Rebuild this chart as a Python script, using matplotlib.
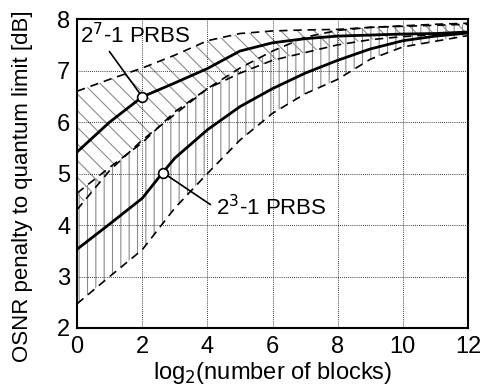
import numpy as np
import matplotlib
matplotlib.use("Agg")
import matplotlib.pyplot as plt

plt.rcParams['font.family'] = ['Liberation Sans', 'DejaVu Sans']
plt.rcParams['hatch.linewidth'] = 0.8

# log2(number of blocks)
x = [0, 1, 2, 3, 4, 5, 6, 7, 8, 9, 10, 11, 12]

# 2^7-1 PRBS: mean and spread
mean7 = [5.42, 6.0, 6.49, 6.76, 7.04, 7.38, 7.54, 7.62, 7.67, 7.69, 7.71, 7.72, 7.75]
upper7 = [6.6, 6.83, 7.05, 7.3, 7.58, 7.72, 7.77, 7.79, 7.8, 7.84, 7.87, 7.9, 7.92]
lower7 = [4.3, 5.06, 5.65, 6.15, 6.65, 6.95, 7.2, 7.35, 7.5, 7.6, 7.66, 7.7, 7.73]

# 2^3-1 PRBS: mean and spread
x3 = [0, 1, 2, 2.63, 3, 4, 5, 6, 7, 8, 9, 10, 11, 12]
mean3 = [3.53, 4.02, 4.52, 5.02, 5.3, 5.85, 6.3, 6.65, 6.95, 7.2, 7.42, 7.58, 7.67, 7.73]
upper3 = [4.62, 5.12, 5.6, 6.2, 6.65, 7.05, 7.38, 7.65, 7.78, 7.84, 7.86, 7.88, 7.9]
lower3 = [2.47, 3.0, 3.52, 4.33, 5.0, 5.65, 6.17, 6.55, 6.83, 7.22, 7.46, 7.57, 7.68]

# marked points
mark7 = (2, 6.49)
mark3 = (2.63, 5.02)

fig = plt.figure(figsize=(4.88, 3.9), dpi=100)
ax = fig.add_axes([0.158, 0.159, 0.801, 0.792])

# hatched bands
ax.fill_between(x, lower3, upper3, facecolor='none', edgecolor='0.55',
                hatch='||', linewidth=0)
ax.fill_between(x, lower7, upper7, facecolor='none', edgecolor='0.55',
                hatch='\\\\', linewidth=0)

dash = dict(color='black', lw=1.2, linestyle=(0, (5, 3.5)))
ax.plot(x, upper7, **dash)
ax.plot(x, lower7, **dash)
ax.plot(x, upper3, **dash)
ax.plot(x, lower3, **dash)

ax.plot(x, mean7, color='black', lw=2)
ax.plot(x3, mean3, color='black', lw=2)

# labels with pointer lines
ax.annotate('2$^7$-1 PRBS', xy=mark7, xytext=(0.08, 7.67), fontsize=16,
            va='center', ha='left',
            arrowprops=dict(arrowstyle='-', color='black', lw=1.2,
                            shrinkA=0, shrinkB=0,
                            relpos=(0.25, 0.0)))
ax.annotate('2$^3$-1 PRBS', xy=mark3, xytext=(4.25, 4.33), fontsize=16,
            va='center', ha='left',
            arrowprops=dict(arrowstyle='-', color='black', lw=1.2,
                            shrinkA=2, shrinkB=0,
                            relpos=(0.0, 0.5)))

ax.plot(*mark7, 'o', ms=7, mfc='white', mec='black', mew=1.2, zorder=5)
ax.plot(*mark3, 'o', ms=7, mfc='white', mec='black', mew=1.2, zorder=5)

ax.set_xlim(0, 12)
ax.set_ylim(2, 8)
ax.set_xticks(range(0, 13, 2))
ax.set_yticks(range(2, 9))
ax.grid(True, color='black', linestyle=(0, (1, 1.5)), linewidth=0.6)
ax.tick_params(direction='in', length=0, labelsize=17)
ax.tick_params(axis='x', pad=6)
ax.tick_params(axis='y', pad=5)
for s in ax.spines.values():
    s.set_linewidth(1.5)

ax.set_xlabel('log$_2$(number of blocks)', fontsize=17, labelpad=1)
ax.set_ylabel('OSNR penalty to quantum limit [dB]', fontsize=16)
ax.yaxis.set_label_coords(-0.113, 0.46)

fig.savefig('out.png', dpi=100)
